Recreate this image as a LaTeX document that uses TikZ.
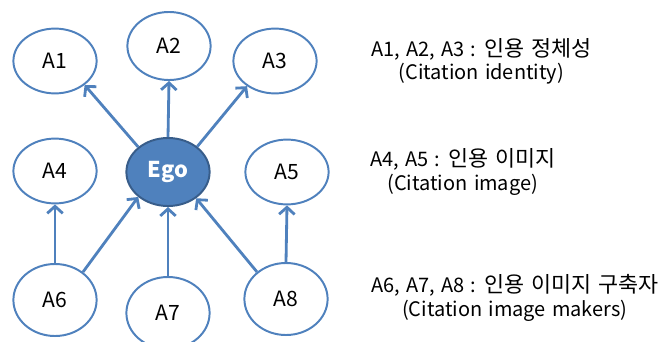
\documentclass[tikz,border=0pt]{standalone}
\usepackage{fontspec}
\setmainfont[WordSpace=1.4]{Noto Sans CJK KR}
\usepackage{tikz}
\usetikzlibrary{arrows.meta,shapes,positioning}
\definecolor{egoblue}{HTML}{4F81BD}
\definecolor{egodark}{HTML}{385D8A}
\newcommand{\kr}[1]{{\fontsize{15.5}{16}\selectfont #1}}

\tikzset{
  actor/.style={ellipse,draw=egoblue,line width=1.4pt,fill=white,inner sep=0pt,
    minimum width=2.08cm,minimum height=1.62cm,font=\fontsize{15}{16}\selectfont},
  egonode/.style={actor,fill=egoblue,draw=egodark,text=white,font=\fontsize{15.5}{16}\selectfont\bfseries},
  cite/.style={draw=egoblue,line width=2pt,-{Straight Barb[length=5pt,width=11pt,line width=2pt]}},
  legend/.style={anchor=west,align=center,inner sep=0pt,font=\fontsize{14.2}{16.5}\selectfont}
}

\begin{document}
\begin{tikzpicture}[x=0.025cm,y=-0.025cm]
\useasboundingbox (0,0) rectangle (661,341);

\node[actor] (a1) at (55,61) {A1};
\node[actor,minimum height=1.7cm] (a2) at (169,46) {A2};
\node[actor] (a3) at (275,61) {A3};

\node[actor] (a4) at (55,171) {A4};
\node[egonode,minimum height=1.7cm] (ego) at (168,172) {Ego};
\node[actor] (a5) at (287,172) {A5};

\node[actor,minimum height=1.8cm] (a6) at (55,300) {A6};
\node[actor,minimum height=1.8cm] (a7) at (168,313) {A7};
\node[actor,minimum height=1.8cm] (a8) at (286,299) {A8};

\draw[cite] (ego.140) -- (a1.-39);
\draw[cite] (ego.north) -- (a2.south);
\draw[cite] (ego.41) -- (a3.-138);

\draw[cite] (a6.north) -- (a4.south);
\draw[cite] (a6.45) -- (ego.-140);
\draw[cite] (a7.north) -- (ego.south);
\draw[cite] (a8.137) -- (ego.-43);
\draw[cite] (a8.north) -- (a5.south);

\node[legend] (l1) at (371,61) {A1, A2, A3 : \kr{인용 정체성}\\(Citation identity)};
\node[legend] (l2) at (370,172) {A4, A5 : \kr{인용 이미지}\\(Citation image)};
\node[legend] (l3) at (371,298) {A6, A7, A8 : \kr{인용 이미지 구축자}\\(Citation image makers)};

\end{tikzpicture}
\end{document}
